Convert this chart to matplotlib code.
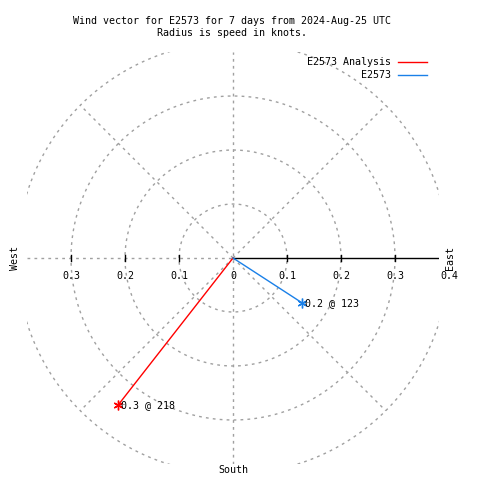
import numpy as np
import matplotlib
matplotlib.use("Agg")
import matplotlib.pyplot as plt

station = "E2573"
series = ["E2573 Analysis", "E2573"]
speeds = [0.345, 0.152]       # knots
directions = [218, 123]       # degrees clockwise from north
colors = ["#ff0000", "#1a80e8"]
rings = [0.1, 0.2, 0.3, 0.4]
tick_vals = [0.1, 0.2, 0.3]
title = "Wind vector for E2573 for 7 days from 2024-Aug-25 UTC\nRadius is speed in knots."

plt.rcParams["font.family"] = "DejaVu Sans Mono"
fs = 7.2
grid = dict(color="#a0a0a0", lw=1, ls=(0, (2, 3)))

fig = plt.figure(figsize=(4.8, 4.8), dpi=100)
lim = 0.3815
ax = fig.add_axes([27 / 480, 16 / 480, 412 / 480, 412 / 480])
ax.set_xlim(-lim, lim)
ax.set_ylim(-lim, lim)
ax.set_aspect("equal")
ax.axis("off")
px = 1 / 540.0

# grid circles and spokes
t = np.linspace(0, 2 * np.pi, 400)
for r in rings:
    ax.plot(r * np.cos(t), r * np.sin(t), **grid)
for a in [45, 135, 225, 315]:
    ax.plot([0, 0.4 * np.cos(np.radians(a))], [0, 0.4 * np.sin(np.radians(a))], **grid)
ax.plot([0, 0], [-lim, lim], **grid)
ax.plot([-lim, 0], [0, 0], **grid)
ax.plot([0, lim], [0, 0], color="black", lw=1)

# ticks
for v in tick_vals:
    for s in (-1, 1):
        ax.plot([s * v, s * v], [-3 * px, 3 * px], color="black", lw=1)

# tick labels
ly = -18 * px
for v in tick_vals:
    ax.text(-v, ly, "%.1f" % v, fontsize=fs, ha="center", va="center", clip_on=False)
for v in [0] + tick_vals + [0.4]:
    lab = "0" if v == 0 else "%.1f" % v
    ax.text(v, ly, lab, fontsize=fs, ha="center", va="center", clip_on=False)

# compass labels
ax.text(-218 * px, 0, "West", rotation=90, fontsize=fs, ha="center", va="center", clip_on=False)
ax.text(217 * px, 0, "East", rotation=90, fontsize=fs, ha="center", va="center", clip_on=False)
ax.text(0, -212 * px, "South", fontsize=fs, ha="center", va="center", clip_on=False)

# vectors
for name, s, d, c in zip(series, speeds, directions, colors):
    x = s * np.sin(np.radians(d))
    y = s * np.cos(np.radians(d))
    ax.plot([0, x], [0, y], color=c, lw=1)
    ax.plot(x, y, marker=(6, 2, 0), color=c, ms=7, mew=1)
    ax.text(x + 3 * px, y, "%.1f @ %d" % (s, d), fontsize=fs, ha="left", va="center", clip_on=False)

# legend
for i, (name, c) in enumerate(zip(series, colors)):
    yy = 1 - (62 + 13 * i) / 480
    fig.text(391 / 480, yy, name, fontsize=fs, ha="right", va="center")
    fig.add_artist(plt.Line2D([398 / 480, 427 / 480], [yy, yy], color=c, lw=1))

fig.text(232 / 480, 1 - 26.5 / 480, title, fontsize=fs, ha="center", va="center",
         linespacing=1.25)

fig.savefig("out.png", dpi=100)
